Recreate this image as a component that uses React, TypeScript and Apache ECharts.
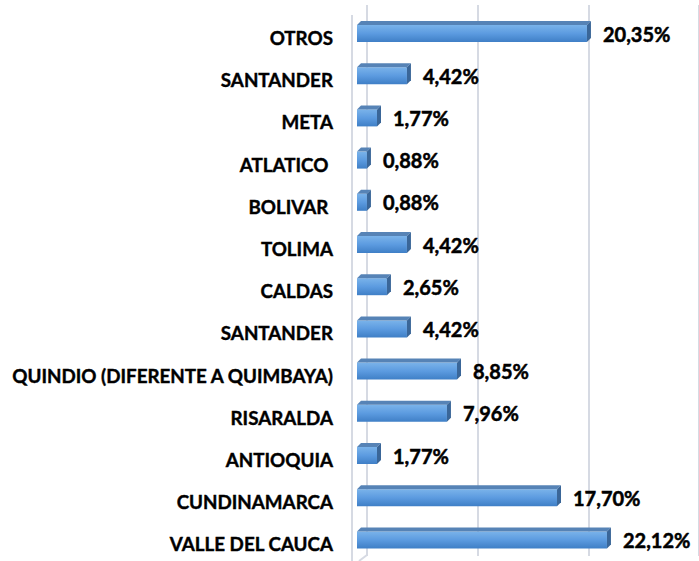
import React, { useEffect, useRef } from "react";
import * as echarts from "echarts";

const categories = [
  "VALLE DEL CAUCA",
  "CUNDINAMARCA",
  "ANTIOQUIA",
  "RISARALDA",
  "QUINDIO (DIFERENTE A QUIMBAYA)",
  "SANTANDER",
  "CALDAS",
  "TOLIMA",
  "BOLIVAR\u00a0",
  "ATLATICO\u00a0",
  "META",
  "SANTANDER",
  "OTROS",
];
const values = [22.12, 17.7, 1.77, 7.96, 8.85, 4.42, 2.65, 4.42, 0.88, 0.88, 1.77, 4.42, 20.35];
const xTicks = [0, 10, 20, 30];

const fmt = (v: number) => v.toFixed(2).replace(".", ",") + "%";

export default function App() {
  const ref = useRef<HTMLDivElement>(null);
  useEffect(() => {
    document.body.style.margin = "0";
    const chart = echarts.init(ref.current!, undefined, { renderer: "svg" });
    const FONT = "Lato";
    const H = 17;
    const D = 4;
    chart.setOption({
      animation: false,
      backgroundColor: "#ffffff",
      grid: [
        { left: 357, top: 12.4, width: 339, height: 549.25 },
        { left: 367, top: 5, width: 339, height: 551 },
      ],
      xAxis: [
        { type: "value", gridIndex: 0, min: 0, max: 30, show: false },
        {
          type: "value",
          gridIndex: 1,
          min: xTicks[0],
          max: xTicks[xTicks.length - 1],
          interval: 10,
          axisLine: { show: false },
          axisTick: { show: false },
          axisLabel: { show: false },
          splitLine: { show: true, lineStyle: { color: "#d6dae3", width: 2 } },
        },
      ],
      yAxis: [
        {
          type: "category",
          gridIndex: 0,
          data: categories,
          axisLine: { show: false },
          axisTick: { show: false },
          splitLine: { show: false },
          axisLabel: { show: false },
        },
        { type: "value", gridIndex: 1, show: false, min: 0, max: 1 },
      ],
      graphic: [
        { type: "line", shape: { x1: 352, y1: 15, x2: 352, y2: 561 }, style: { stroke: "#d6dae3", lineWidth: 2 } },
        { type: "line", shape: { x1: 367, y1: 555, x2: 359, y2: 561 }, style: { stroke: "#d6dae3", lineWidth: 2 } },
      ],
      series: [
        {
          type: "custom",
          xAxisIndex: 0,
          yAxisIndex: 0,
          clip: false,
          data: values.map((v, i) => [v, i]),
          renderItem: (params: any, api: any) => {
            const v = api.value(0);
            const i = api.value(1);
            const p0 = api.coord([0, i]);
            const p1 = api.coord([v, i]);
            const x0 = p0[0];
            const x1 = p1[0];
            const cy = p0[1];
            const yT = cy - H / 2;
            const yB = cy + H / 2;
            return {
              type: "group",
              children: [
                {
                  type: "rect",
                  shape: { x: x0, y: yT, width: x1 - x0, height: H },
                  style: {
                    fill: new echarts.graphic.LinearGradient(0, 0, 0, 1, [
                      { offset: 0, color: "#7ab3ea" },
                      { offset: 0.5, color: "#5c9be0" },
                      { offset: 1, color: "#3f7fc6" },
                    ]),
                  },
                },
                {
                  type: "polygon",
                  shape: { points: [[x0, yT], [x0 + D, yT - D], [x1 + D, yT - D], [x1, yT]] },
                  style: { fill: "#5683b6" },
                },
                {
                  type: "polygon",
                  shape: { points: [[x1, yT], [x1 + D, yT - D], [x1 + D, yB - D], [x1, yB]] },
                  style: { fill: "#3a6698" },
                },
                {
                  type: "text",
                  style: {
                    x: x1 + 16,
                    y: cy,
                    text: fmt(values[i]),
                    fill: "#000",
                    font: `bold 20px ${FONT}`,
                    stroke: "#000",
                    lineWidth: 0.5,
                    verticalAlign: "middle",
                    align: "left",
                  },
                },
                {
                  type: "text",
                  style: {
                    x: x0 - 24,
                    y: cy + 4,
                    text: categories[i],
                    fill: "#000",
                    font: `bold 18.8px ${FONT}`,
                    stroke: "#000",
                    lineWidth: 0.4,
                    verticalAlign: "middle",
                    align: "right",
                  },
                },
              ],
            };
          },
        },
      ],
    });
    return () => chart.dispose();
  }, []);
  return <div ref={ref} style={{ width: 699, height: 561 }} />;
}
